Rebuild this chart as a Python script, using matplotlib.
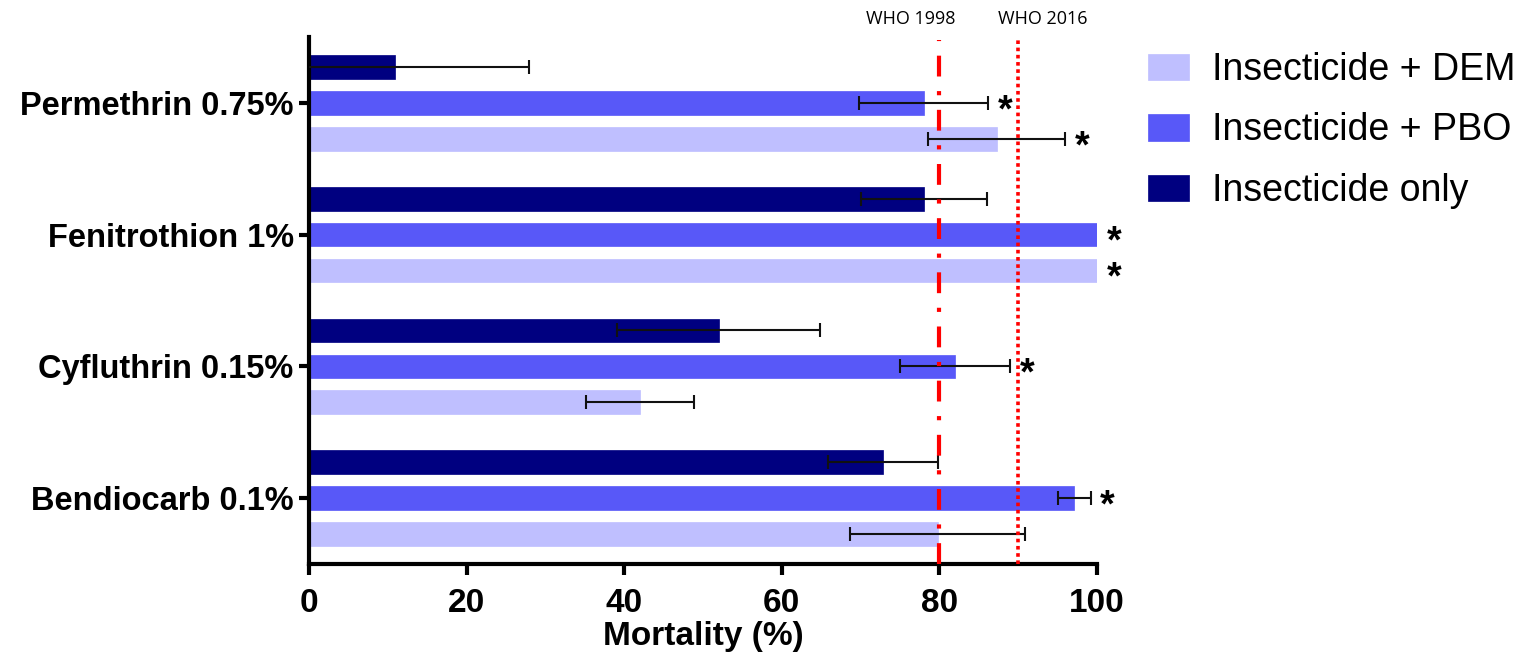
import matplotlib.pyplot as plt
import numpy as np

plt.rcParams['font.family'] = ['Liberation Sans', 'DejaVu Sans']

# insecticides, bottom to top
insecticides = ["Bendiocarb 0.1%", "Cyfluthrin 0.15%", "Fenitrothion 1%", "Permethrin 0.75%"]

only_mean = [72.8, 52.0, 78.0, 10.9]
only_err = [7.0, 12.9, 8.0, 17.0]
pbo_mean = [97.1, 82.0, 100.0, 78.0]
pbo_err = [2.1, 7.0, 0.0, 8.2]
dem_mean = [79.8, 42.0, 100.0, 87.3]
dem_err = [11.1, 6.9, 0.0, 8.7]

# significance stars
pbo_star = [True, True, True, True]
dem_star = [False, False, True, True]

series = [
    ("Insecticide only", only_mean, only_err, "#000080", 0.273, [False] * 4),
    ("Insecticide + PBO", pbo_mean, pbo_err, "#5858F8", 0.0, pbo_star),
    ("Insecticide + DEM", dem_mean, dem_err, "#BFBFFF", -0.273, dem_star),
]

fig = plt.figure(figsize=(15.32, 6.63), dpi=100)
ax = fig.add_axes([309 / 1532, 1 - 564 / 663, 788 / 1532, 527 / 663])

y = np.arange(len(insecticides))
handles = {}
for name, mean, err, col, off, stars in series:
    b = ax.barh(y + off, mean, height=0.18, color=col, edgecolor=col, lw=0.5, zorder=2)
    handles[name] = b
    for yi, m, e in zip(y, mean, err):
        if e > 0:
            ax.errorbar(m, yi + off, xerr=e, fmt="none", ecolor="#111111",
                        elinewidth=1.5, capsize=5, capthick=1.5, zorder=3)
    for yi, m, e, s in zip(y, mean, err, stars):
        if s:
            ax.annotate("*", xy=(m + e, yi + off), xytext=(12, -6),
                        textcoords="offset points", ha="center", va="center",
                        fontsize=27, fontweight="bold", zorder=4)

# WHO thresholds
ax.axvline(80, color="red", lw=3, linestyle=(0, (5, 3.5, 1, 3.5)), ymax=0.995, zorder=5)
ax.axvline(90, color="red", lw=2.6, linestyle=(0, (1, 1)), ymax=0.995, zorder=5)
ax.text(76.4, 1.034, "WHO 1998", transform=ax.get_xaxis_transform(),
        ha="center", va="center", fontsize=13, family="Open Sans")
ax.text(93.1, 1.034, "WHO 2016", transform=ax.get_xaxis_transform(),
        ha="center", va="center", fontsize=13, family="Open Sans")

ax.set_xlim(0, 100)
ax.set_ylim(-0.5, 3.5)
ax.set_yticks(y)
ax.set_yticklabels(insecticides, fontsize=23.5, fontweight="bold")
ax.set_xticks([0, 20, 40, 60, 80, 100])
ax.set_xticklabels(["0", "20", "40", "60", "80", "100"], fontsize=24, fontweight="bold")
ax.set_xlabel("Mortality (%)", fontsize=24, fontweight="bold", labelpad=2)

for s in ["top", "right"]:
    ax.spines[s].set_visible(False)
for s in ["left", "bottom"]:
    ax.spines[s].set_linewidth(3)
ax.tick_params(axis="x", length=8, width=3, pad=9)
ax.tick_params(axis="y", length=7, width=3, pad=4)

order = ["Insecticide + DEM", "Insecticide + PBO", "Insecticide only"]
fig.legend([handles[k] for k in order], order, loc="upper left",
           bbox_to_anchor=(1129 / 1532, 1 - 33 / 663), frameon=False,
           fontsize=27, handlelength=1.1, handleheight=0.7,
           handletextpad=0.6, labelspacing=0.66, borderpad=0)

fig.savefig("out.png", dpi=100)
